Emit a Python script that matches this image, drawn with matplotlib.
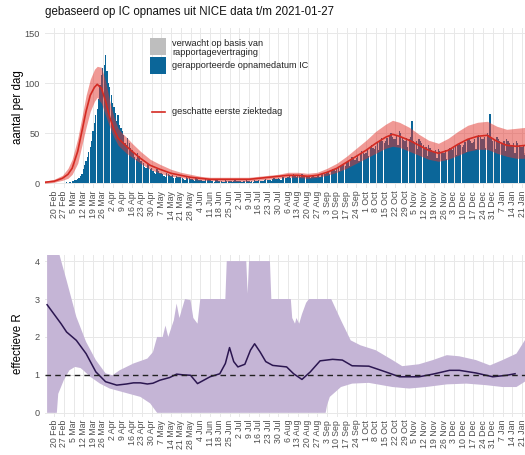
import numpy as np
import pandas as pd
import matplotlib
matplotlib.use("Agg")
import matplotlib.pyplot as plt
import matplotlib.dates as mdates
from matplotlib.patches import Rectangle
from matplotlib.lines import Line2D

plt.rcParams['font.family'] = ['Liberation Sans', 'DejaVu Sans']

# ---------------- data ----------------
title = "gebaseerd op IC opnames uit NICE data t/m 2021-01-27"
start_day = "2020-02-20"

# daily reported IC admissions (blue), weekly rows starting Thursdays from 20 Feb 2020
ic_reported = [
    0, 0, 0, 0, 0, 0, 0,
    0, 0, 1, 0, 1, 1, 2,
    2, 3, 3, 4, 5, 7, 9,
    14, 18, 22, 26, 31, 36, 42,
    52, 60, 68, 74, 84, 98, 108,
    115, 118, 128, 112, 100, 96, 88,
    80, 76, 70, 62, 68, 58, 55,
    52, 48, 40, 38, 45, 40, 35,
    33, 30, 26, 24, 30, 27, 22,
    22, 20, 16, 15, 20, 18, 14,
    15, 12, 10, 9, 14, 12, 10,
    10, 9, 7, 6, 10, 9, 8,
    7, 8, 5, 5, 7, 6, 6,
    6, 5, 4, 3, 6, 5, 5,
    4, 4, 3, 2, 5, 4, 3,
    3, 3, 2, 2, 4, 3, 3,
    3, 2, 2, 1, 3, 3, 2,
    2, 2, 1, 1, 3, 2, 2,
    2, 2, 1, 2, 3, 2, 2,
    2, 2, 1, 2, 2, 3, 2,
    2, 1, 2, 1, 3, 2, 2,
    3, 2, 2, 2, 3, 4, 3,
    3, 3, 2, 4, 5, 4, 4,
    5, 4, 3, 6, 6, 5, 5,
    6, 7, 5, 8, 9, 7, 6,
    7, 8, 6, 9, 8, 7, 6,
    6, 7, 5, 6, 7, 6, 6,
    7, 8, 6, 9, 10, 9, 9,
    10, 11, 9, 12, 14, 13, 12,
    14, 16, 12, 17, 19, 18, 17,
    20, 22, 17, 24, 26, 25, 23,
    25, 28, 22, 30, 32, 30, 29,
    30, 33, 27, 36, 38, 35, 34,
    37, 40, 33, 42, 45, 42, 40,
    42, 45, 38, 48, 50, 46, 44,
    44, 48, 38, 52, 50, 45, 43,
    42, 45, 36, 44, 46, 62, 42,
    40, 42, 34, 44, 42, 40, 38,
    34, 36, 27, 38, 35, 33, 32,
    31, 33, 25, 34, 32, 30, 30,
    30, 33, 24, 34, 35, 34, 33,
    35, 37, 28, 38, 40, 38, 36,
    38, 41, 31, 43, 44, 42, 40,
    41, 44, 34, 47, 48, 46, 44,
    44, 46, 35, 50, 48, 69, 45,
    42, 44, 34, 46, 44, 42, 40,
    40, 42, 32, 44, 42, 40, 38,
    38, 40, 30, 42, 40, 38, 36,
    36, 38, 28, 36, 32, 26, 18,
]
# expected extra from reporting delay (grey), last days only
expected_dates = ["2021-01-21", "2021-01-22", "2021-01-23", "2021-01-24",
                  "2021-01-25", "2021-01-26", "2021-01-27"]
expected_extra = [0, 0, 2, 4, 8, 14, 22]

# estimated first day of illness (red line + band)
onset_dates = ["2020-02-13", "2020-02-20", "2020-02-26", "2020-03-01", "2020-03-04",
               "2020-03-08", "2020-03-11", "2020-03-14", "2020-03-17", "2020-03-20",
               "2020-03-22", "2020-03-25", "2020-03-28", "2020-03-31", "2020-04-03",
               "2020-04-06", "2020-04-09", "2020-04-12", "2020-04-16", "2020-04-22",
               "2020-04-29", "2020-05-06", "2020-05-14", "2020-05-21", "2020-05-28",
               "2020-06-04", "2020-06-11", "2020-06-18", "2020-06-25", "2020-07-02",
               "2020-07-09", "2020-07-16", "2020-07-23", "2020-07-30", "2020-08-06",
               "2020-08-13", "2020-08-20", "2020-08-27", "2020-09-03", "2020-09-10",
               "2020-09-17", "2020-09-24", "2020-10-01", "2020-10-08", "2020-10-15",
               "2020-10-20", "2020-10-25", "2020-11-01", "2020-11-08", "2020-11-15",
               "2020-11-22", "2020-11-29", "2020-12-06", "2020-12-13", "2020-12-20",
               "2020-12-27", "2021-01-03", "2021-01-10", "2021-01-17", "2021-01-24",
               "2021-01-27"]
onset_mid = [1, 2, 5, 9, 15, 32, 52, 72, 88, 96, 99, 95, 82, 66, 54, 45, 41, 37, 32, 25,
             18, 14, 10, 8, 6, 5, 4, 4, 4, 4, 4, 5, 6, 7, 8, 8, 7, 8, 11, 15,
             21, 27, 33, 40, 46, 49, 47, 43, 38, 33, 30, 33, 39, 44, 47, 48, 42, 38, 37, 38,
             36]
onset_lo = [0, 1, 3, 5, 9, 20, 38, 56, 72, 82, 86, 80, 68, 56, 46, 38, 34, 30, 26, 20,
            14, 10, 7, 6, 4, 3, 3, 2, 2, 2, 2, 3, 4, 5, 6, 6, 5, 6, 8, 11,
            15, 20, 25, 30, 35, 37, 36, 32, 28, 24, 22, 24, 28, 32, 34, 34, 30, 27, 25, 25,
            22]
onset_hi = [2, 4, 8, 15, 24, 45, 66, 88, 104, 114, 117, 116, 102, 82, 66, 55, 50, 46, 40, 32,
            24, 19, 14, 11, 9, 7, 6, 6, 6, 6, 6, 7, 8, 9, 11, 11, 10, 11, 15, 20,
            27, 35, 43, 52, 59, 63, 61, 56, 49, 43, 40, 45, 52, 58, 61, 62, 57, 54, 55, 56,
            56]

# effective R
r_dates = ["2020-02-15", "2020-02-20", "2020-02-25", "2020-02-29", "2020-03-07",
           "2020-03-14", "2020-03-21", "2020-03-28", "2020-04-05", "2020-04-12",
           "2020-04-17", "2020-04-22", "2020-04-27", "2020-05-01", "2020-05-06",
           "2020-05-13", "2020-05-18", "2020-05-23", "2020-05-28", "2020-06-02",
           "2020-06-06", "2020-06-11", "2020-06-18", "2020-06-22", "2020-06-25",
           "2020-06-28", "2020-07-01", "2020-07-06", "2020-07-10", "2020-07-13",
           "2020-07-17", "2020-07-21", "2020-07-26", "2020-08-05", "2020-08-10",
           "2020-08-16", "2020-08-22", "2020-08-29", "2020-09-07", "2020-09-14",
           "2020-09-21", "2020-10-03", "2020-10-15", "2020-10-25", "2020-11-08",
           "2020-11-18", "2020-11-30", "2020-12-07", "2020-12-19", "2020-12-31",
           "2021-01-10", "2021-01-16"]
r_mid = [2.85, 2.6, 2.35, 2.13, 1.91, 1.56, 1.08, 0.82, 0.73, 0.76,
         0.79, 0.79, 0.76, 0.78, 0.86, 0.93, 1.02, 1.00, 0.99, 0.77,
         0.85, 0.95, 1.03, 1.3, 1.72, 1.35, 1.21, 1.28, 1.65, 1.82,
         1.6, 1.35, 1.25, 1.21, 1.03, 0.88, 1.08, 1.37, 1.41, 1.39,
         1.24, 1.23, 1.08, 0.95, 0.95, 1.02, 1.12, 1.12, 1.05, 0.95,
         0.99, 1.03]

r_hi_dates = ["2020-02-15", "2020-02-22", "2020-02-24", "2020-02-29", "2020-03-07",
              "2020-03-14", "2020-03-21", "2020-03-28", "2020-04-02", "2020-04-07",
              "2020-04-17", "2020-04-27", "2020-05-01", "2020-05-04", "2020-05-08",
              "2020-05-10", "2020-05-12", "2020-05-16", "2020-05-18", "2020-05-20",
              "2020-05-24", "2020-05-28", "2020-05-30", "2020-06-02", "2020-06-04",
              "2020-06-22", "2020-06-23", "2020-07-07", "2020-07-08", "2020-07-09",
              "2020-07-24", "2020-07-25", "2020-08-08", "2020-08-09", "2020-08-11",
              "2020-08-12", "2020-08-14", "2020-08-16", "2020-08-19", "2020-08-21",
              "2020-09-06", "2020-09-13", "2020-09-20", "2020-09-27", "2020-10-08",
              "2020-10-20", "2020-10-27", "2020-11-08", "2020-11-18", "2020-11-28",
              "2020-12-07", "2020-12-19", "2020-12-29", "2021-01-07", "2021-01-17",
              "2021-01-23", "2021-01-27"]
r_hi = [6.0, 6.0, 4.15, 3.49, 2.53, 1.87, 1.39, 1.04, 0.99, 1.12,
        1.30, 1.43, 1.6, 2.0, 2.0, 2.3, 2.0, 2.44, 2.88, 2.5,
        3.0, 2.97, 2.5, 2.35, 3.0, 3.0, 4.0, 4.0, 3.14, 4.0,
        4.0, 3.0, 3.0, 2.5, 2.35, 2.5, 2.35, 2.6, 2.9, 3.0,
        3.0, 2.44, 1.91, 1.78, 1.65, 1.39, 1.23, 1.28, 1.39, 1.52,
        1.49, 1.39, 1.25, 1.39, 1.56, 1.91, 2.3]

r_lo_dates = ["2020-02-15", "2020-02-22", "2020-02-23", "2020-02-27", "2020-03-02",
              "2020-03-06", "2020-03-10", "2020-03-12", "2020-03-17", "2020-03-24",
              "2020-03-31", "2020-04-09", "2020-04-22", "2020-04-29", "2020-05-04",
              "2020-09-02", "2020-09-03", "2020-09-05", "2020-09-13", "2020-09-21",
              "2020-10-03", "2020-10-20", "2020-11-01", "2020-11-13", "2020-11-28",
              "2020-12-12", "2020-12-26", "2021-01-07", "2021-01-17", "2021-01-23",
              "2021-01-27"]
r_lo = [0.0, 0.0, 0.5, 0.86, 1.12, 1.21, 1.18, 1.12, 0.95, 0.77,
        0.64, 0.55, 0.42, 0.25, 0.0, 0.0, 0.2, 0.42, 0.68, 0.77,
        0.79, 0.68, 0.64, 0.68, 0.75, 0.77, 0.73, 0.68, 0.68, 0.82,
        0.9]

r_threshold = 1.0

# ---------------- plotting ----------------
W, H = 525, 455
fig = plt.figure(figsize=(W / 100, H / 100), dpi=100)

def fx(px):
    return px / W

def fy(py):
    return 1 - py / H

ax1 = fig.add_axes([fx(45), fy(188), fx(500), 160 / H])
ax2 = fig.add_axes([fx(45), fy(417), fx(500), 162 / H])

d0 = mdates.date2num(pd.Timestamp(start_day))
xlim = (d0 - 6.5, d0 + 352.5)
week_ticks = pd.date_range("2020-02-20", "2021-01-28", freq="7D")
tick_labels = [f"{d.day} {d.strftime('%b')}" for d in week_ticks]

grid_c = "#e8e8e8"
for ax in (ax1, ax2):
    for s in ax.spines.values():
        s.set_visible(False)
    ax.set_xlim(*xlim)
    ax.set_xticks(mdates.date2num(week_ticks))
    ax.set_xticklabels(tick_labels, rotation=90, fontsize=6.3, color="#4d4d4d")
    ax.tick_params(axis="both", length=0, pad=2)
    ax.tick_params(axis="y", labelsize=6.6, labelcolor="#4d4d4d", pad=4)
    ax.grid(True, color=grid_c, lw=0.7)
    ax.set_axisbelow(True)

# top panel
bar_dates = pd.date_range(start_day, periods=len(ic_reported), freq="D")
bx = mdates.date2num(bar_dates)
ax1.bar(bx, ic_reported, width=0.9, color="#0b6699", linewidth=0, zorder=2)
ex = mdates.date2num(pd.to_datetime(expected_dates))
base = [ic_reported[list(bar_dates).index(pd.Timestamp(d))] for d in expected_dates]
ax1.bar(ex, expected_extra, bottom=base, width=0.9, color="#bebebe", linewidth=0, zorder=2)

ox = mdates.date2num(pd.to_datetime(onset_dates))
ax1.fill_between(ox, onset_lo, onset_hi, color="#e3342c", alpha=0.5, linewidth=0, zorder=3)
ax1.plot(ox, onset_mid, color="#d42a22", lw=1.2, zorder=4)
ax1.set_ylim(-4.7, 155.3)
ax1.set_yticks([0, 50, 100, 150])

# bottom panel
rhx = mdates.date2num(pd.to_datetime(r_hi_dates))
rlx = mdates.date2num(pd.to_datetime(r_lo_dates))
ax2.fill(np.concatenate([rhx, rlx[::-1]]), np.concatenate([r_hi, r_lo[::-1]]),
         color="#c5b5d6", linewidth=0, zorder=2)
rx = mdates.date2num(pd.to_datetime(r_dates))
ax2.plot(rx, r_mid, color="#2b1650", lw=1.1, zorder=3)
ax2.axhline(r_threshold, color="#222222", lw=1.0, ls=(0, (4, 3)), zorder=4)
ax2.set_ylim(-0.11, 4.16)
ax2.set_yticks([0, 1, 2, 3, 4])

# texts
fig.text(fx(45), fy(12), title, fontsize=8.3, va="center", ha="left", color="#111111")
fig.text(fx(18), fy(107), "aantal per dag", rotation=90, fontsize=8.3, va="center", ha="center")
fig.text(fx(18), fy(344), "effectieve R", rotation=90, fontsize=8.3, va="center", ha="center")

# legend
fig.add_artist(Rectangle((fx(150), fy(55)), fx(16), 17 / H, transform=fig.transFigure,
                         color="#bebebe", lw=0))
fig.add_artist(Rectangle((fx(150), fy(74)), fx(16), 17 / H, transform=fig.transFigure,
                         color="#0b6699", lw=0))
fig.add_artist(Line2D([fx(152), fx(165)], [fy(112), fy(112)], transform=fig.transFigure,
                      color="#d42a22", lw=1.2))
leg_kw = dict(fontsize=6.6, va="center", ha="left", color="#222222")
fig.text(fx(172), fy(43), "verwacht op basis van", **leg_kw)
fig.text(fx(172), fy(52.5), "rapportagevertraging", **leg_kw)
fig.text(fx(172), fy(66), "gerapporteerde opnamedatum IC", **leg_kw)
fig.text(fx(172), fy(112), "geschatte eerste ziektedag", **leg_kw)

fig.savefig("out.png", dpi=100)
